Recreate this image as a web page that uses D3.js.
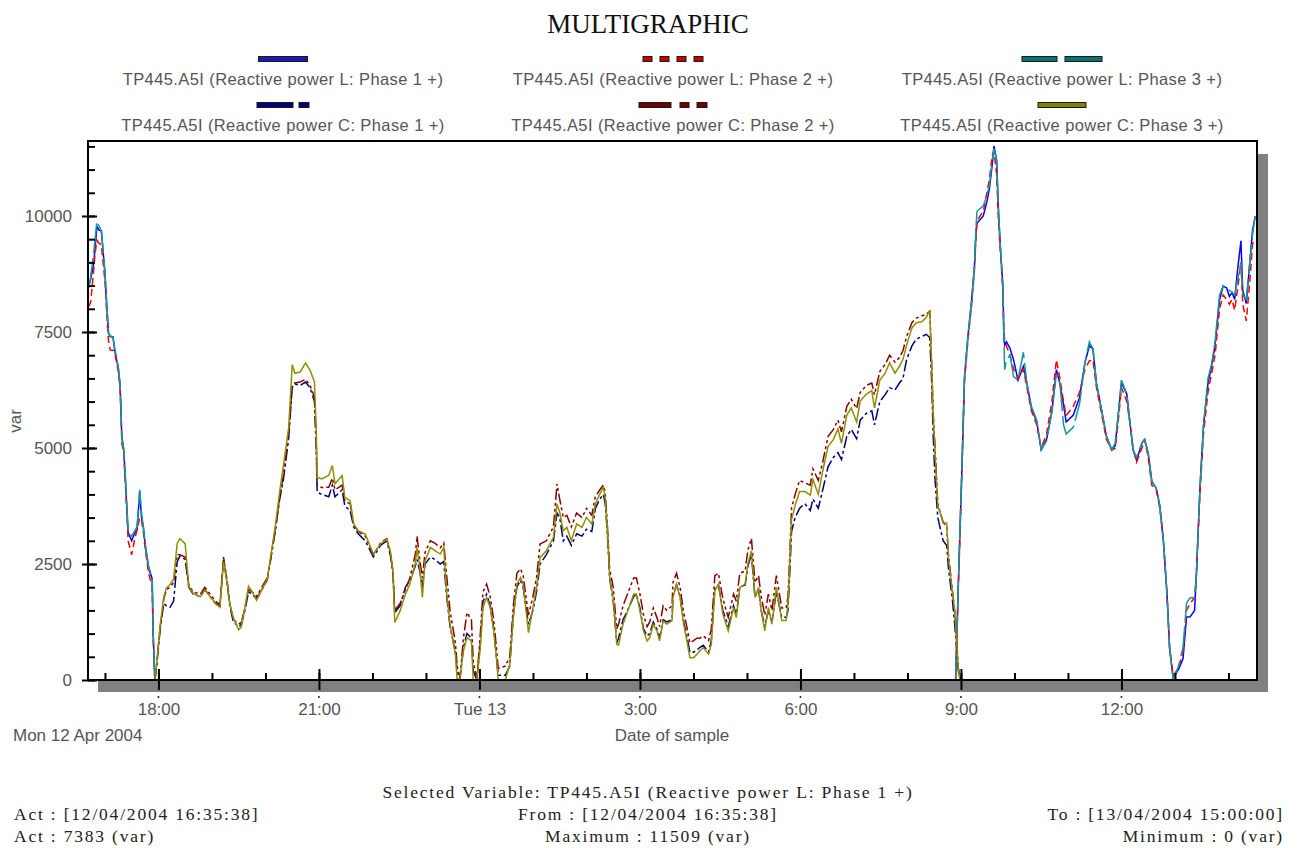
<!DOCTYPE html>
<html>
<head>
<meta charset="utf-8">
<script src="https://cdn.jsdelivr.net/npm/d3@7"></script>
<style>
body { margin: 0; background: #fff; }
</style>
</head>
<body>
<div class="canvas"></div>
<script>
// ---- data ----
const legendLabels = [
    'TP445.A5I (Reactive power L: Phase 1 +)',
    'TP445.A5I (Reactive power L: Phase 2 +)',
    'TP445.A5I (Reactive power L: Phase 3 +)',
    'TP445.A5I (Reactive power C: Phase 1 +)',
    'TP445.A5I (Reactive power C: Phase 2 +)',
    'TP445.A5I (Reactive power C: Phase 3 +)'
];
const yTicks = [0, 2500, 5000, 7500, 10000];
const yTop = 11616;
const timeStart = '16:41';
const timeEnd = '14:32';

// evening, inductive series (L)
const eveTimes = ["16:42","16:44","16:47","16:49","16:51","16:53","16:56","17:00","17:02","17:04",
    "17:06","17:09","17:11","17:15","17:17","17:19","17:21","17:23","17:25","17:26",
    "17:30","17:33","17:36","17:39","17:41","17:43","17:45","17:49","17:53","17:54","17:56"];
const eveL1 = [8500,8640,8920,9300,9785,9700,9677,8770,8078,7474,
    7400,7400,7106,6718,6340,5206,4974,4298,3542,3175,
    3002,3150,3240,4067,3500,3309,2938,2398,2182,1037,0];
const eveL2 = [8050,8150,8750,9200,9480,9420,9374,8600,7900,7300,
    7110,7106,7050,6650,6300,5100,4900,4200,3450,3000,
    2700,3000,3240,3500,3450,3200,2850,2300,2000,950,0];
const eveL3 = [8450,8700,9143,9500,9884,9800,9677,8800,8100,7480,
    7420,7380,7150,6750,6380,5250,4980,4350,3600,3200,
    3100,3200,3300,4100,3600,3309,2938,2450,2200,1050,0];

// night, capacitive series (C)
const nightTimes = ["17:56","17:58","18:02","18:06","18:09","18:13","18:17","18:21","18:24","18:30",
    "18:34","18:39","18:47","18:52","19:04","19:09","19:13","19:17","19:20","19:24",
    "19:30","19:33","19:37","19:41","19:45","19:50","19:56","20:02","20:05","20:11",
    "20:16","20:20","20:26","20:30","20:33","20:39","20:45","20:50","20:55","20:57",
    "20:58","21:03","21:11","21:15","21:18","21:26","21:29","21:35","21:39","21:44",
    "21:52","22:01","22:09","22:16","22:20","22:23","22:25","22:31","22:37","22:42",
    "22:48","22:50","22:53","22:56","22:59","23:05","23:10","23:16","23:20","23:23",
    "23:27","23:33","23:35","23:38","23:42","23:46","23:51","23:53","23:57","00:01",
    "00:04","00:08","00:12","00:16","00:19","00:21","00:29","00:34","00:38","00:42",
    "00:46","00:49","00:55","01:00","01:04","01:08","01:15","01:23","01:27","01:30",
    "01:34","01:38","01:43","01:49","01:55","02:00","02:06","02:10","02:15","02:19",
    "02:21","02:23","02:25","02:26","02:30","02:34","02:36","02:41","02:45","02:53",
    "02:56","03:00","03:04","03:08","03:11","03:15","03:19","03:22","03:26","03:30",
    "03:36","03:37","03:41","03:45","03:49","03:52","03:56","04:00","04:04","04:07",
    "04:11","04:17","04:20","04:24","04:28","04:33","04:39","04:45","04:48","04:52",
    "04:58","05:01","05:05","05:09","05:13","05:16","05:20","05:24","05:28","05:33",
    "05:39","05:44","05:46","05:48","05:50","05:54","05:59","06:05","06:11","06:14",
    "06:20","06:25","06:31","06:37","06:42","06:46","06:52","06:57","07:03","07:07",
    "07:14","07:20","07:23","07:29","07:35","07:40","07:46","07:51","07:55","07:59",
    "08:05","08:10","08:16","08:21","08:25","08:27","08:29","08:31","08:34","08:40",
    "08:44","08:46","08:50","08:53","08:57","08:59"];
const nightC1 = [0,300,1100,1650,1600,1566,1700,2550,2665,2600,
    2000,1850,1800,1950,1650,1600,2600,2100,1600,1250,
    1150,1200,1500,1900,1850,1750,1950,2150,2500,3200,
    3900,4300,5200,6300,6380,6350,6420,6300,6000,5000,
    4050,4000,3950,4200,3950,4100,3750,3650,3300,3150,
    3000,2650,2900,3000,2700,2300,1450,1600,2000,2150,
    2450,2600,2350,2000,2500,2650,2600,2500,2550,1850,
    1150,600,200,0,700,1000,900,200,0,800,
    1700,1850,1600,1100,500,100,100,300,1400,2000,
    2150,2000,1200,1500,1900,2500,2700,3000,3600,3500,
    3000,3100,2900,3150,3100,3250,3200,3700,3900,4000,
    3800,3300,2600,2200,1700,800,900,1300,1450,1800,
    1850,1550,1100,950,1000,1250,1100,900,1300,1250,
    1300,1800,2050,1800,1250,1000,600,600,650,700,
    750,600,850,1950,2050,1500,1150,1600,1400,2000,
    2050,2450,2700,1800,1950,1500,1150,1500,1250,1900,
    1350,1350,1500,2300,3200,3500,3700,3800,3650,3900,
    3700,4100,4600,4800,4900,4750,5250,5400,5200,5600,
    5750,5800,5500,6000,6150,6300,6250,6400,6500,6900,
    7200,7350,7400,7450,7380,6500,5200,4300,3500,3000,
    2900,2400,1800,1200,200,0];
const nightC2 = [0,350,1150,1750,1950,2000,2100,2700,2700,2650,
    2050,1900,1850,2000,1700,1620,2650,2150,1650,1300,
    1200,1250,1550,1950,1900,1800,2000,2200,2500,3250,
    3950,4400,5300,6350,6400,6420,6480,6350,6100,5100,
    4200,4150,4154,4350,4100,4200,3850,3800,3350,3200,
    3100,2700,2950,3050,2750,2350,1500,1650,1950,2200,
    2700,3100,2600,2200,2750,3000,2950,2850,2950,2300,
    1500,800,300,0,900,1454,1300,400,0,1000,
    1900,2067,1800,1300,700,250,300,500,1600,2300,
    2400,2250,1400,1800,2200,2931,3000,3300,4227,3900,
    3500,3550,3300,3600,3500,3700,3550,3950,4100,4200,
    4050,3500,2800,2400,2000,1100,1200,1600,1800,2200,
    2200,1850,1400,1150,1250,1550,1350,1150,1600,1500,
    1600,2100,2300,2000,1450,1200,800,850,900,900,
    950,850,1100,2250,2300,1750,1350,1850,1700,2300,
    2350,2800,3050,2100,2250,1800,1400,1850,1500,2250,
    1550,1550,1800,2700,3700,4000,4300,4250,4200,4550,
    4300,4700,5250,5400,5600,5350,5900,6050,5850,6200,
    6350,6400,6150,6650,6800,7000,6850,6950,7100,7400,
    7700,7800,7850,7880,7950,6900,5700,5000,3800,3400,
    3300,2700,2000,1500,300,0];
const nightC3 = [0,354,1188,1793,1987,2058,2173,2938,3046,2938,
    2020,1868,1793,1944,1642,1566,2549,2095,1642,1339,
    1080,1145,1566,2020,1907,1717,1944,2173,2549,3309,
    4067,4600,5430,6793,6610,6638,6832,6681,6422,5378,
    4370,4335,4406,4622,4227,4406,3938,3866,3363,3218,
    3147,2715,2931,3039,2786,2354,1238,1490,1851,2067,
    2499,2858,2426,1778,2570,2858,2786,2715,2858,1922,
    1203,555,0,0,626,914,842,0,0,698,
    1562,1778,1562,1058,482,0,0,339,1346,2067,
    2210,2067,1022,1562,1994,2642,2786,3074,3795,3614,
    3218,3290,3002,3363,3290,3506,3363,3795,4011,4154,
    3938,3363,2642,2210,1778,771,750,1203,1419,1851,
    1851,1490,1058,842,914,1203,1058,842,1274,1203,
    1274,1778,2067,1778,1203,914,482,482,555,626,
    698,555,771,1922,2067,1419,1058,1562,1346,1994,
    2067,2499,2786,1778,1994,1490,1058,1562,1203,1994,
    1281,1281,1657,2557,3458,3758,4061,4061,3985,4322,
    4000,4510,5035,5186,5411,5100,5711,5862,5562,6011,
    6162,6237,5862,6463,6612,6836,6612,6761,6912,7212,
    7588,7700,7720,7813,7964,6836,5637,4886,3758,3384,
    3384,2633,1957,1507,231,0];

// day, inductive series (L)
const dayTimes = ["08:54","08:55","08:57","09:01","09:04","09:08","09:12","09:15","09:17","09:18",
    "09:25","09:29","09:32","09:35","09:37","09:40","09:42","09:44","09:47","09:48",
    "09:49","09:51","09:55","09:59","10:04","10:10","10:14","10:19","10:25","10:30",
    "10:36","10:42","10:47","10:51","10:55","10:58","11:06","11:13","11:19","11:24",
    "11:28","11:32","11:38","11:43","11:49","11:53","11:56","12:00","12:06","12:09",
    "12:13","12:17","12:23","12:26","12:30","12:34","12:39","12:43","12:47","12:51",
    "12:54","12:58","13:04","13:09","13:13","13:17","13:22","13:24","13:28","13:32",
    "13:37","13:41","13:45","13:50","13:54","13:58","14:01","14:04","14:07","14:10",
    "14:14","14:16","14:20","14:24","14:27","14:30"];
const dayL1 = [0,680,2030,4510,6537,7439,8189,8865,9690,9841,
    10000,10300,10600,11100,11509,11200,10141,9390,8489,7512,
    7214,7288,7150,6900,6463,6761,6387,5862,5562,4962,
    5186,5787,6687,6387,5936,5562,5711,6087,6836,7200,
    7137,6387,5787,5262,4962,5050,5637,6400,6162,5637,
    4962,4735,5111,5186,4886,4285,4134,3758,3009,1881,
    680,43,231,456,1357,1361,1500,2257,4134,5486,
    6387,6761,7214,8189,8489,8450,8264,8350,8200,8800,
    9465,8400,8113,9014,9690,9990];
const dayL2 = [0,600,1950,4450,6450,7350,8100,8800,9600,9900,
    10100,10500,10800,11300,11400,10900,9900,9300,8400,7600,
    7300,7200,7000,6700,6500,6700,6300,5800,5500,5000,
    5300,6000,6900,6500,6000,5700,5900,6200,6700,6875,
    6900,6300,5700,5200,4950,5000,5500,6300,6000,5600,
    5000,4700,5000,5186,4800,4200,4100,3700,3000,1850,
    700,100,250,600,1500,1650,1771,2257,4000,5300,
    6200,6600,7000,8000,8300,8200,8100,8200,7970,8400,
    9000,8100,7740,8600,9400,9500];
const dayL3 = [0,700,2050,4510,6550,7450,8200,8900,9800,10102,
    10217,10441,10666,11191,11450,11191,10141,9390,8489,7512,
    6687,6900,7000,6537,6463,7063,6387,5900,5600,4962,
    5150,5787,6600,6387,5500,5299,5450,5950,6836,7288,
    7137,6387,5787,5262,4962,5100,5637,6463,6162,5637,
    4962,4800,5111,5186,4886,4285,4134,3758,3009,1881,
    680,0,300,700,1657,1771,1771,2257,4134,5486,
    6500,6800,7300,8300,8489,8400,8400,8350,8300,8600,
    9000,8300,8200,9014,9600,10000];

const selectedLine = 'Selected Variable: TP445.A5I (Reactive power L: Phase 1 +)';
const infoLeft = ['Act : [12/04/2004 16:35:38]', 'Act : 7383 (var)'];
const infoMid = ['From : [12/04/2004 16:35:38]', 'Maximum : 11509 (var)'];
const infoRight = ['To : [13/04/2004 15:00:00]', 'Minimum : 0 (var)'];

// ---- helpers ----
// hours before 16 belong to the 13th
const toDate = s => {
    const [h, m] = s.split(':').map(Number);
    return new Date(2004, 3, h < 16 ? 13 : 12, h, m);
};
const pairs = (times, vals) => times.map((t, i) => ({t: toDate(t), v: vals[i]}));

const series = [
    {segs: [pairs(eveTimes, eveL1), pairs(dayTimes, dayL1)], color: '#0000ff', dash: null,
        swatch: [49], swFill: '#1a1ab0'},
    {segs: [pairs(eveTimes, eveL2), pairs(dayTimes, dayL2)], color: '#ff0000', dash: '7,4',
        swatch: [9, 8, 9, 8, 9, 8, 9], swFill: '#c80000'},
    {segs: [pairs(eveTimes, eveL3), pairs(dayTimes, dayL3)], color: '#139a96', dash: '30,5',
        swatch: [35, 8, 37], swFill: '#0a7070'},
    {segs: [pairs(nightTimes, nightC1)], color: '#00007a', dash: '12,3,3,3',
        swatch: [36, 6, 10], swFill: '#00007a'},
    {segs: [pairs(nightTimes, nightC2)], color: '#8a0000', dash: '11,3,3,3,3,3',
        swatch: [32, 9, 9, 8, 10], swFill: '#700000'},
    {segs: [pairs(nightTimes, nightC3)], color: '#8f8f00', dash: null,
        swatch: [48], swFill: '#808000'}
];

// ---- layout ----
const svg = d3.select('.canvas')
    .append('svg')
        .attr('width', 1300)
        .attr('height', 848);

const plot = {left: 88, top: 141, right: 1257, bottom: 680};
const sans = '"Liberation Sans", Arial, sans-serif';
const serif = '"Liberation Serif", "Times New Roman", serif';
const grey = '#555';

const x = d3.scaleTime()
    .domain([toDate(timeStart), toDate(timeEnd)])
    .range([plot.left, plot.right]);
const y = d3.scaleLinear()
    .domain([0, yTop])
    .range([plot.bottom, plot.top]);

// title
svg.append('text')
    .attr('x', 648).attr('y', 33)
    .attr('text-anchor', 'middle')
    .attr('font-family', serif).attr('font-size', 27)
    .attr('fill', '#111')
    .text('MULTIGRAPHIC');

// legend: 3 columns, 2 rows
const colX = [283, 673, 1062];
const rowSwatchY = [59, 105];
const rowTextY = [85, 131];
series.forEach((s, i) => {
    const cx = colX[i % 3], row = Math.floor(i / 3);
    const total = d3.sum(s.swatch);
    let pos = cx - total / 2;
    s.swatch.forEach((len, k) => {
        if (k % 2 === 0) {
            svg.append('rect')
                .attr('x', pos).attr('y', rowSwatchY[row] - 2.5)
                .attr('width', len).attr('height', 5)
                .attr('fill', s.swFill)
                .attr('stroke', '#1a1a1a').attr('stroke-width', 1);
        }
        pos += len;
    });
    svg.append('text')
        .attr('x', cx).attr('y', rowTextY[row])
        .attr('text-anchor', 'middle')
        .attr('font-family', sans).attr('font-size', 16.5)
        .attr('letter-spacing', 0.4)
        .attr('fill', grey)
        .text(legendLabels[i]);
});

// shadow + plot background
svg.append('rect')
    .attr('x', plot.left + 10).attr('y', plot.top + 13)
    .attr('width', plot.right - plot.left + 1).attr('height', plot.bottom - plot.top - 1)
    .attr('fill', '#808080');
svg.append('rect')
    .attr('x', plot.left).attr('y', plot.top)
    .attr('width', plot.right - plot.left).attr('height', plot.bottom - plot.top)
    .attr('fill', '#fff');

svg.append('clipPath').attr('id', 'clip')
    .append('rect')
        .attr('x', plot.left).attr('y', plot.top)
        .attr('width', plot.right - plot.left).attr('height', plot.bottom - plot.top);

// lines
const line = d3.line().x(d => x(d.t)).y(d => y(d.v));
const lines = svg.append('g').attr('clip-path', 'url(#clip)');
series.forEach(s => {
    s.segs.forEach(seg => {
        lines.append('path')
            .attr('d', line(seg))
            .attr('fill', 'none')
            .attr('stroke', s.color)
            .attr('stroke-width', 1.5)
            .attr('stroke-dasharray', s.dash);
    });
});

// axes
const styleAxis = g => {
    g.select('.domain').remove();
    g.selectAll('.tick line').attr('stroke', '#000').attr('stroke-width', 2);
    g.selectAll('.tick text').attr('fill', grey);
    g.attr('font-family', sans).attr('font-size', 17);
};
const fmtTime = d => d.getHours() === 0 ? d3.timeFormat('%a %d')(d) : d3.timeFormat('%-H:%M')(d);

svg.append('g')
    .attr('transform', `translate(0, ${plot.bottom})`)
    .call(d3.axisTop(x).ticks(d3.timeHour.every(1)).tickSize(7).tickFormat(''))
    .call(styleAxis);
svg.append('g')
    .attr('transform', `translate(0, ${plot.bottom})`)
    .call(d3.axisTop(x).ticks(d3.timeHour.every(3)).tickSize(11).tickFormat(''))
    .call(styleAxis);
svg.append('g')
    .attr('transform', `translate(0, ${plot.bottom})`)
    .call(d3.axisBottom(x).ticks(d3.timeHour.every(3)).tickSize(10).tickPadding(13).tickFormat(fmtTime))
    .call(styleAxis);
svg.append('g').selectAll('circle')
    .data(x.ticks(d3.timeHour.every(3)))
    .enter().append('circle')
        .attr('cx', d => x(d)).attr('cy', 697).attr('r', 1)
        .attr('fill', '#222');

svg.append('g')
    .attr('transform', `translate(${plot.left}, 0)`)
    .call(d3.axisRight(y).tickValues(d3.range(0, yTop, 500)).tickSize(7).tickFormat(''))
    .call(styleAxis);
svg.append('g')
    .attr('transform', `translate(${plot.left}, 0)`)
    .call(d3.axisRight(y).tickValues(yTicks).tickSize(9).tickFormat(''))
    .call(styleAxis);
svg.append('g')
    .attr('transform', `translate(${plot.left}, 0)`)
    .call(d3.axisLeft(y).tickValues(yTicks).tickSize(6).tickPadding(10).tickFormat(d3.format('d')))
    .call(styleAxis);

// frame
svg.append('rect')
    .attr('x', plot.left).attr('y', plot.top)
    .attr('width', plot.right - plot.left).attr('height', plot.bottom - plot.top)
    .attr('fill', 'none')
    .attr('stroke', '#000').attr('stroke-width', 2);

// axis titles
svg.append('text')
    .attr('x', 13).attr('y', 741)
    .attr('font-family', sans).attr('font-size', 17).attr('fill', grey)
    .text('Mon 12 Apr 2004');
svg.append('text')
    .attr('x', 672).attr('y', 741)
    .attr('text-anchor', 'middle')
    .attr('font-family', sans).attr('font-size', 17).attr('fill', grey)
    .text('Date of sample');
svg.append('text')
    .attr('transform', 'translate(21, 421) rotate(-90)')
    .attr('text-anchor', 'middle')
    .attr('font-family', sans).attr('font-size', 17).attr('fill', grey)
    .text('var');

// footer
const foot = (txt, xx, yy, anchor) => svg.append('text')
    .attr('x', xx).attr('y', yy)
    .attr('text-anchor', anchor)
    .attr('font-family', serif).attr('font-size', 17.5)
    .attr('letter-spacing', 1.8)
    .attr('fill', '#222')
    .text(txt);
foot(selectedLine, 648, 798, 'middle');
infoLeft.forEach((t, i) => foot(t, 14, 820 + i * 22, 'start'));
infoMid.forEach((t, i) => foot(t, 648, 820 + i * 22, 'middle'));
infoRight.forEach((t, i) => foot(t, 1284, 820 + i * 22, 'end'));
</script>
</body>
</html>
